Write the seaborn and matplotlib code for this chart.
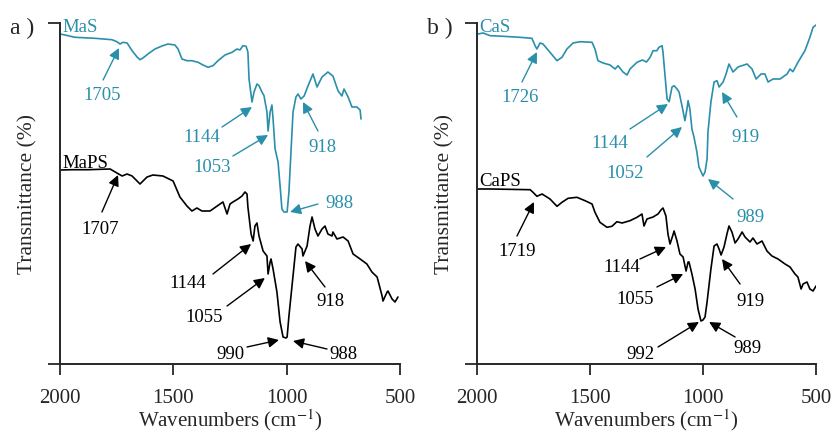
import numpy as np
import pandas as pd
import matplotlib
matplotlib.use('Agg')
import matplotlib.pyplot as plt
import seaborn as sns

# --- DATA (wavenumber in cm-1, transmittance offset in arbitrary units) ---
mas_wn = [2000, 1978, 1934, 1846, 1771, 1749, 1735, 1722, 1704, 1682, 1660, 1647, 1634, 1612,
          1581, 1550, 1524, 1493, 1479, 1462, 1440, 1418, 1391, 1369, 1347, 1325, 1303, 1272,
          1241, 1219, 1206, 1193, 1179, 1171, 1166, 1153, 1144, 1131, 1122, 1109, 1100, 1087,
          1082, 1073, 1065, 1060, 1051, 1038, 1029, 1021, 1012, 998, 990, 981, 972, 959, 950,
          937, 923, 906, 884, 866, 844, 818, 796, 773, 756, 747, 729, 712, 690, 676, 672]
mas_t = [330, 329, 326.7, 325.7, 324.3, 322.3, 320, 321.7, 321, 313.3, 307, 304.3, 306, 310,
         315, 318, 320, 319, 315, 305, 303.3, 303.3, 301.7, 299, 296.7, 298.3, 303.3, 309,
         311.7, 315, 314, 318.3, 317.7, 312, 285, 262, 272, 280, 278.3, 272, 268.3, 252,
         233, 252, 259, 245, 215, 202, 178, 155, 152, 152, 172, 212, 252, 267, 270,
         265, 268, 278, 290, 277, 287, 292, 288, 273, 268, 275, 267, 257, 257, 254, 245]

maps_wn = [1996, 1947, 1876, 1779, 1749, 1726, 1704, 1682, 1647, 1616, 1590, 1546, 1501, 1471,
           1440, 1418, 1396, 1374, 1338, 1294, 1281, 1263, 1250, 1237, 1215, 1197, 1184, 1175,
           1171, 1157, 1148, 1140, 1131, 1122, 1104, 1087, 1082, 1073, 1069, 1060, 1043, 1029,
           1016, 1003, 998, 990, 972, 959, 950, 932, 928, 910, 897, 888, 875, 862, 844, 831,
           818, 800, 796, 778, 751, 729, 707, 676, 646, 624, 601, 579, 575, 557, 553, 535,
           522, 509]
maps_t = [194, 194.3, 194.3, 195, 191, 188, 190, 188, 180, 187, 189, 188, 183, 167,
          158, 153, 156, 153, 153, 160, 162, 150, 160, 162, 165, 168, 172, 170,
          157, 130, 123, 138, 141, 128, 113, 108, 90, 102, 105, 95, 72, 42,
          27, 26, 27, 48, 88, 117, 120, 115, 108, 118, 138, 147, 135, 128, 135, 138,
          130, 128, 132, 125, 127, 123, 110, 105, 100, 92, 87, 68, 63, 72, 73, 65,
          62, 67]

cas_wn = [1996, 1973, 1942, 1885, 1810, 1757, 1743, 1735, 1721, 1708, 1677, 1646, 1624, 1602,
          1575, 1544, 1491, 1478, 1465, 1442, 1411, 1389, 1376, 1354, 1336, 1323, 1292, 1268,
          1250, 1234, 1221, 1204, 1195, 1181, 1177, 1168, 1159, 1150, 1137, 1128, 1115, 1106,
          1093, 1080, 1071, 1066, 1058, 1049, 1040, 1027, 1018, 1000, 991, 982, 978, 965, 951,
          938, 929, 911, 898, 885, 867, 845, 805, 783, 765, 743, 726, 712, 690, 659, 628,
          615, 602, 580, 549, 527, 513, 500]
cas_t = [330, 331, 328.3, 327.7, 326.7, 325.7, 318.3, 315, 321, 320, 311.7, 303.3, 306.7, 315,
         321, 322.3, 321.7, 315, 303.3, 301, 299, 295, 298.3, 292, 289, 295, 301.7, 304,
         302, 306.7, 313.3, 313.3, 316.7, 318.3, 311.7, 288.3, 265, 262.3, 277, 278.3, 275, 272,
         258.3, 243.3, 255, 263.3, 255, 235, 227, 212, 197, 188, 192, 205, 232, 262, 282,
         283.3, 277, 282, 290, 300, 292, 297, 300, 295, 285, 290, 290, 282, 285, 285, 290,
         295, 292.3, 301.7, 313.3, 326.7, 336.7, 339]

caps_wn = [1996, 1942, 1765, 1752, 1735, 1712, 1677, 1646, 1624, 1597, 1558, 1522, 1491, 1478,
           1456, 1425, 1403, 1381, 1358, 1323, 1292, 1270, 1261, 1248, 1221, 1199, 1186, 1177,
           1164, 1155, 1146, 1133, 1128, 1115, 1102, 1088, 1075, 1066, 1062, 1049, 1035, 1022,
           1009, 1000, 991, 982, 965, 951, 938, 929, 920, 907, 894, 885, 872, 858, 845, 827,
           814, 792, 779, 761, 739, 717, 695, 668, 637, 615, 593, 580, 566, 557, 540, 527,
           513, 500]
caps_t = [175, 175, 174.3, 171.7, 167.7, 170, 165, 157.7, 161.7, 165.7, 166.7, 163.3, 160, 151.7,
          141.7, 136.7, 137.7, 142.3, 141, 143.3, 146.7, 150, 138, 145, 147, 150, 154, 156,
          148, 130, 120, 129, 133, 123, 110, 107, 93, 102, 102, 90, 75, 55,
          43, 44, 47, 62, 95, 118, 120, 115, 109, 117, 130, 138, 132, 121, 125, 132,
          127, 122, 126, 120, 123, 113, 108, 105, 100, 97, 90, 87, 75, 80, 82, 75,
          73, 78]

# peak labels: (text, arrow tip, arrow tail, text centre) in data units
mas_peaks = [('1705', (1740, 316), (1810, 284), (1815, 269)),
             ('1144', (1153, 257), (1285, 237), (1373, 227)),
             ('1053', (1082, 229), (1237, 208), (1329, 198)),
             ('918', (928, 262), (862, 233), (840, 218)),
             ('988', (985, 152), (862, 160), (765, 161))]
maps_peaks = [('1707', (1744, 189), (1815, 152), (1824, 136)),
              ('1144', (1157, 120), (1325, 90), (1435, 82)),
              ('1055', (1096, 86), (1263, 58), (1365, 47)),
              ('918', (919, 103), (831, 77), (809, 63)),
              ('990', (1034, 24), (1175, 17), (1250, 10)),
              ('988', (972, 23), (822, 15), (751, 10))]
cas_peaks = [('1726', (1735, 312), (1801, 282), (1810, 267)),
             ('1144', (1155, 260), (1323, 235), (1412, 222)),
             ('1052', (1093, 237), (1248, 207), (1345, 192)),
             ('919', (916, 272), (850, 247), (814, 228)),
             ('989', (978, 185), (867, 165), (792, 148))]
caps_peaks = [('1719', (1748, 162), (1823, 128), (1823, 113)),
              ('1144', (1164, 117), (1279, 105), (1358, 97)),
              ('1055', (1088, 90), (1204, 77), (1301, 65)),
              ('919', (916, 105), (836, 80), (792, 63)),
              ('992', (1018, 42), (1199, 17), (1279, 10)),
              ('989', (973, 42), (858, 27), (805, 16))]

TEAL = '#2a8fab'
BLACK = '#000000'

# --- STYLE ---
sns.set_style('ticks')
plt.rcParams['font.family'] = ['Liberation Serif', 'DejaVu Serif']
plt.rcParams['mathtext.fontset'] = 'stix'

fig = plt.figure(figsize=(8.33, 4.35), dpi=100)
ax_a = fig.add_axes([60 / 833, 70 / 435, 340 / 833, 341 / 435])
ax_b = fig.add_axes([477 / 833, 70 / 435, 339 / 833, 341 / 435])


def draw_panel(ax, top, bottom, top_name, bottom_name, top_peaks, bottom_peaks):
    for (wn, t), col in [(top, TEAL), (bottom, BLACK)]:
        df = pd.DataFrame({'wn': wn, 't': t})
        sns.lineplot(data=df, x='wn', y='t', sort=False, estimator=None,
                     color=col, lw=1.2, ax=ax)
    for peaks, col in [(top_peaks, TEAL), (bottom_peaks, BLACK)]:
        for lab, tip, tail, txt in peaks:
            ax.annotate('', xy=tip, xytext=tail,
                        arrowprops=dict(arrowstyle='-|>', color=col, lw=1.0,
                                        mutation_scale=16, shrinkA=0, shrinkB=0))
            ax.text(txt[0], txt[1], lab, color=col, fontsize=13.5,
                    ha='center', va='center')
    # series names sit just above the start of each trace
    ax.text(1991, top[1][0] + 7, top_name, color=TEAL, fontsize=13.5,
            ha='left', va='center', clip_on=False)
    ax.text(1991, bottom[1][0] + 8, bottom_name, color=BLACK, fontsize=13.5,
            ha='left', va='center')

    ax.set_xlim(2000, 500)
    ax.set_ylim(0, 341)
    ax.set_xticks([2000, 1500, 1000, 500])
    ax.set_yticks([0, 341])
    ax.set_yticklabels([])
    ax.tick_params(axis='x', direction='out', length=8, width=1.3, labelsize=15, pad=9)
    ax.tick_params(axis='y', direction='out', length=9, width=1.3)
    for s in ['top', 'right']:
        ax.spines[s].set_visible(False)
    for s in ['left', 'bottom']:
        ax.spines[s].set_linewidth(1.4)
    ax.set_xlabel('Wavenumbers (cm$^{-1}$)', fontsize=15, labelpad=0)
    ax.set_ylabel('Transmittance (%)', fontsize=15.5, labelpad=4)


draw_panel(ax_a, (mas_wn, mas_t), (maps_wn, maps_t), 'MaS', 'MaPS', mas_peaks, maps_peaks)
draw_panel(ax_b, (cas_wn, cas_t), (caps_wn, caps_t), 'CaS', 'CaPS', cas_peaks, caps_peaks)

fig.text(10 / 833, 1 - 28 / 435, 'a )', fontsize=17, ha='left', va='center')
fig.text(427 / 833, 1 - 28 / 435, 'b )', fontsize=17, ha='left', va='center')

plt.savefig('out.png', dpi=100)
